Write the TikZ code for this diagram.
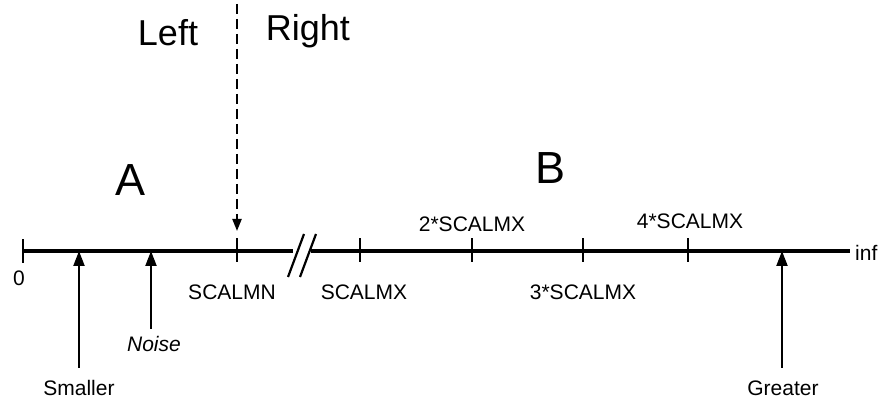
\documentclass[tikz,border=0pt]{standalone}
\usepackage{fontspec}
\setmainfont{Liberation Sans}
\usetikzlibrary{arrows.meta}
\begin{document}
\begin{tikzpicture}[x=1pt,y=-1pt,
  lbl/.style={inner sep=0pt,font=\fontsize{21}{21}\selectfont},
  side/.style={inner sep=0pt,font=\fontsize{36}{36}\selectfont},
  region/.style={inner sep=0pt,font=\fontsize{45}{45}\selectfont},
  axis/.style={line width=3.4pt},
  tick/.style={line width=2.2pt},
  pointer/.style={line width=2.2pt,-{Triangle[length=15pt,width=11pt]}}]
\useasboundingbox (0,0) rectangle (884,403);

% axis anchor points
\coordinate (o) at (23,251);
\coordinate (brkL) at (293,251);
\coordinate (brkR) at (311,251);
\coordinate (end) at (850,251);
\coordinate (mn) at (237,251);
\coordinate (mx1) at (360,251);
\coordinate (mx2) at (472,251);
\coordinate (mx3) at (583,251);
\coordinate (mx4) at (688,251);
\coordinate (sm) at (79,251);
\coordinate (ns) at (151,251);
\coordinate (gt) at (782,251);

% axis with a break
\draw[axis] (o) -- (brkL);
\draw[axis] (brkR) -- (end);
\draw[tick] (288,277) -- (304,234);
\draw[tick] (300,277) -- (316,234);

% ticks
\draw[tick] ([yshift=-12]o) -- ([yshift=12]o);
\foreach \t in {mn,mx1,mx2,mx3,mx4}
  \draw[tick] ([yshift=-11]\t) -- ([yshift=13]\t);

% labels
\node[lbl] at (19,278) {0};
\node[lbl] (lmn) at (232,292) {SCALMN};
\node[lbl] (lmx1) at (364,292) {SCALMX};
\node[lbl] (lmx2) at (472,224) {2*SCALMX};
\node[lbl] (lmx3) at (583,292) {3*SCALMX};
\node[lbl] (lmx4) at (690,221) {4*SCALMX};
\node[lbl,anchor=west] (inf) at (855,253) {inf};

% pointers from below
\node[lbl] (smaller) at (79,388) {Smaller};
\node[lbl,font=\fontsize{21}{21}\selectfont\itshape] (noise) at (154,344) {Noise};
\node[lbl] (greater) at (783,388) {Greater};
\draw[pointer] (79,368) -- (sm);
\draw[pointer] (151,329) -- (ns);
\draw[pointer] (782,368) -- (gt);

% dashed divider
\coordinate (top) at (237,4);
\draw[line width=2.2pt,dash pattern=on 10pt off 5pt,-{Triangle[length=12pt,width=9pt]}] (top) -- (237,231);

\node[side] (left) at (168,33) {Left};
\node[side] (right) at (308,31) {Right};
\node[region] (A) at (131,180) {A};
\node[region] (B) at (551,168) {B};
\end{tikzpicture}
\end{document}
